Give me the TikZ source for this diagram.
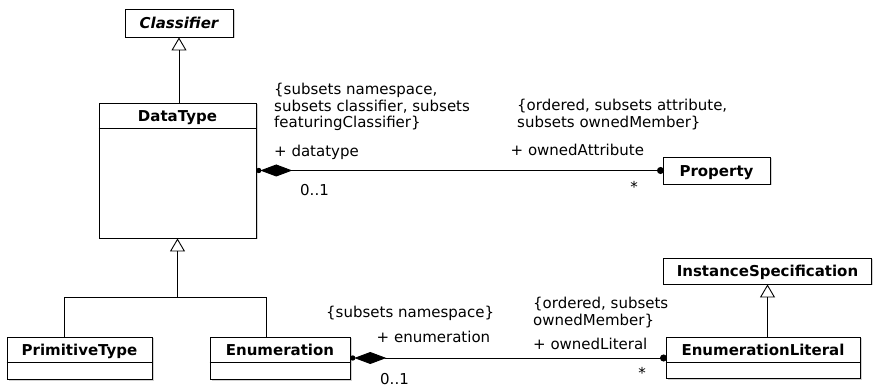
\documentclass[tikz,border=0pt]{standalone}
\usepackage{fontspec}
\setmainfont{DejaVu Sans}
\usetikzlibrary{arrows.meta,shadows,calc}
\begin{document}
\begin{tikzpicture}[x=1pt,y=-1pt,
  cls/.style={draw, line width=0.9pt, fill=white, inner sep=0pt,
    drop shadow={shadow xshift=1.5pt, shadow yshift=-1.5pt, fill=black!35}},
  ttl/.style={font=\fontsize{15}{16.5}\selectfont\bfseries, inner sep=0pt, anchor=base},
  ttli/.style={font=\fontsize{15}{16.5}\selectfont\bfseries\itshape, inner sep=0pt, anchor=base},
  lbl/.style={font=\fontsize{15}{16.5}\selectfont, inner sep=0pt, align=left},
  sep/.style={line width=0.9pt},
  gen/.style={line width=0.9pt},
  genarr/.style={line width=0.9pt, -{Triangle[open, width=15pt, length=13pt, fill=white]}},
  comp/.style={line width=0.9pt, {Diamond[length=32pt, width=12pt]}-{Circle[length=7pt]},
    shorten <=3.8pt, shorten >=-1.5pt},
  ownd/.style={fill=black},
]
\useasboundingbox (0,0) rectangle (873,387);

% classes
\node[cls, minimum width=108pt, minimum height=28pt] (cl) at (179,23) {};
\node[ttli] (clt) at ($(cl.north)+(0,19.5)$) {Classifier};

\node[cls, minimum width=157pt, minimum height=135pt] (dt) at (177.5,170.5) {};
\node[ttl] (dtt) at ($(dt.north)+(0,19)$) {DataType};
\draw[sep] ($(dt.north west)+(0,26)$) -- ($(dt.north east)+(0,26)$);

\node[cls, minimum width=107pt, minimum height=27pt] (pr) at (716.5,170.5) {};
\node[ttl] (prt) at ($(pr.north)+(0,19.5)$) {Property};

\node[cls, minimum width=145pt, minimum height=42pt] (pt) at (79.5,358) {};
\node[ttl] (ptt) at ($(pt.north)+(0,19)$) {PrimitiveType};
\draw[sep] ($(pt.north west)+(0,26)$) -- ($(pt.north east)+(0,26)$);

\node[cls, minimum width=140pt, minimum height=42pt] (en) at (280,358) {};
\node[ttl] (ent) at ($(en.north)+(0,19)$) {Enumeration};
\draw[sep] ($(en.north west)+(0,26)$) -- ($(en.north east)+(0,26)$);

\node[cls, minimum width=208pt, minimum height=26pt] (is) at (767.5,271) {};
\node[ttl] (ist) at ($(is.north)+(0,18.5)$) {InstanceSpecification};

\node[cls, minimum width=194pt, minimum height=41pt] (el) at (763,357.5) {};
\node[ttl] (elt) at ($(el.north)+(0,18.5)$) {EnumerationLiteral};
\draw[sep] ($(el.north west)+(0,26)$) -- ($(el.north east)+(0,26)$);

% generalizations
\draw[genarr] (dt.north -| cl.south) -- (cl.south);
\coordinate (j) at ($(dt.south)+(0,59)$);
\draw[gen] ($(pt.north west)+(57.5,0)$) |- (j) -| ($(en.north west)+(57,0)$);
\draw[genarr] (j) -- (dt.south);
\draw[genarr] (el.north -| is.south) -- (is.south);

% compositions
\draw[comp] (dt.east) -- (dt.east -| pr.west);
\fill[ownd] ($(dt.east)+(2.3,0)$) circle (2.7);
\draw[comp] (en.east) -- (en.east -| el.west);
\fill[ownd] ($(en.east)+(2.3,0)$) circle (2.7);

% labels
\node[lbl, anchor=north west] (l1) at (274,83) {\{subsets namespace,\\subsets classifier, subsets\\featuringClassifier\}};
\node[lbl, anchor=west] (l2) at (274,152) {+ datatype};
\node[lbl, anchor=west] (l3) at (300,190) {0..1};
\node[lbl, anchor=north west] (l4) at (517,99) {\{ordered, subsets attribute,\\subsets ownedMember\}};
\node[lbl, anchor=west] (l5) at (510.5,150) {+ ownedAttribute};
\node[lbl, anchor=center] (l6) at (634,187) {*};

\node[lbl, anchor=west] (l7) at (326,313) {\{subsets namespace\}};
\node[lbl, anchor=west] (l8) at (376.5,337) {+ enumeration};
\node[lbl, anchor=west] (l9) at (380,379) {0..1};
\node[lbl, anchor=north west] (l10) at (533,297) {\{ordered, subsets\\ownedMember\}};
\node[lbl, anchor=west] (l11) at (533,344) {+ ownedLiteral};
\node[lbl, anchor=center] (l12) at (642,373) {*};
\end{tikzpicture}
\end{document}
